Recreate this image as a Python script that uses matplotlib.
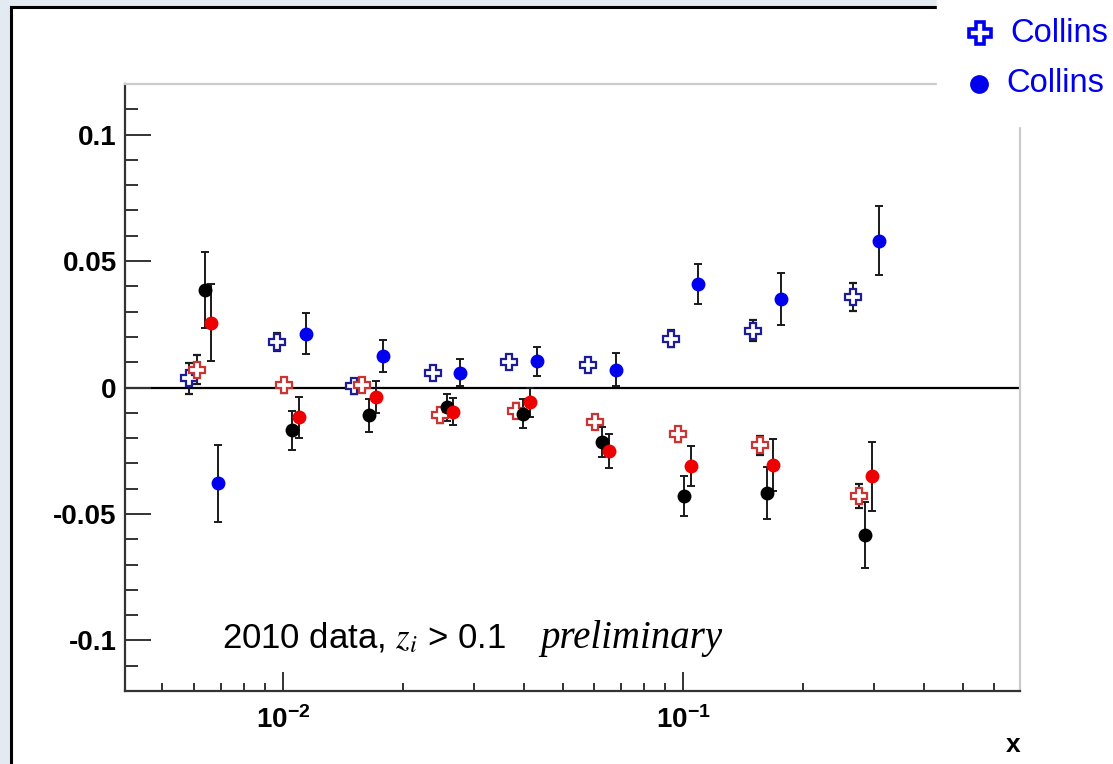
import matplotlib
matplotlib.use("Agg")
import matplotlib.pyplot as plt
from matplotlib.lines import Line2D
from matplotlib.patches import Rectangle
from matplotlib.ticker import FixedLocator, FixedFormatter, MultipleLocator, NullFormatter

plt.rcParams['font.family'] = ['Liberation Sans', 'DejaVu Sans']
plt.rcParams['mathtext.fontset'] = 'stix'

# open blue crosses
x_bc = [0.00582, 0.00966, 0.0151, 0.0237, 0.0367, 0.0579, 0.0933, 0.1496, 0.266]
y_bc = [0.0036, 0.0180, 0.0004, 0.0059, 0.0099, 0.0087, 0.0193, 0.0225, 0.0359]
e_bc = [0.0060, 0.0034, 0.0030, 0.0020, 0.0016, 0.0025, 0.0034, 0.0043, 0.0055]

# filled blue circles
x_bf = [0.00688, 0.01141, 0.01778, 0.0277, 0.0432, 0.068, 0.109, 0.1758, 0.309]
y_bf = [-0.0379, 0.0213, 0.0126, 0.0059, 0.0103, 0.0071, 0.0410, 0.0351, 0.0580]
e_bf = [0.0152, 0.0081, 0.0063, 0.0055, 0.0057, 0.0067, 0.0079, 0.0103, 0.0136]

# open red crosses
x_rc = [0.0061, 0.01006, 0.01576, 0.0247, 0.0382, 0.0603, 0.0972, 0.1557, 0.275]
y_rc = [0.0071, 0.0008, 0.0008, -0.0110, -0.0091, -0.0138, -0.0185, -0.0229, -0.0430]
e_rc = [0.0059, 0.0030, 0.0020, 0.0030, 0.0030, 0.0020, 0.0030, 0.0037, 0.0047]

# filled black circles
x_k = [0.00638, 0.01053, 0.0164, 0.0257, 0.0398, 0.0627, 0.1006, 0.1622, 0.285]
y_k = [0.0387, -0.0170, -0.0110, -0.0079, -0.0103, -0.0217, -0.0430, -0.0418, -0.0584]
e_k = [0.0150, 0.0079, 0.0065, 0.0055, 0.0057, 0.0059, 0.0079, 0.0103, 0.0130]

# filled red circles
x_rf = [0.0066, 0.01096, 0.01708, 0.0266, 0.0414, 0.0653, 0.1047, 0.1679, 0.297]
y_rf = [0.0256, -0.0118, -0.0036, -0.0095, -0.0059, -0.0252, -0.0312, -0.0308, -0.0351]
e_rf = [0.0152, 0.0081, 0.0063, 0.0053, 0.0057, 0.0067, 0.0079, 0.0103, 0.0136]

y_ticks = [-0.1, -0.05, 0, 0.05, 0.1]
y_tick_labels = ["-0.1", "-0.05", "0", "0.05", "0.1"]
x_ticks = [0.01, 0.1]
x_tick_labels = [r"$\mathregular{10^{-2}}$", r"$\mathregular{10^{-1}}$"]
legend_labels = ["Collins", "Collins"]

W, H = 1113, 764
fig = plt.figure(figsize=(W / 100, H / 100), dpi=100)
fig.patch.set_facecolor("white")

# slide background and frame
bg = "#e4eaf1"
fig.add_artist(Rectangle((0, 0), 10 / W, 1, transform=fig.transFigure, color=bg, zorder=0))
fig.add_artist(Rectangle((0, 1 - 5 / H), 937 / W, 5 / H, transform=fig.transFigure, color=bg, zorder=0))
fig.add_artist(Line2D([11 / W, 11 / W], [0, 1 - 6.5 / H], transform=fig.transFigure, color="black", lw=2.2))
fig.add_artist(Line2D([11 / W, 937 / W], [1 - 6.5 / H, 1 - 6.5 / H], transform=fig.transFigure, color="black", lw=2.2))

ax = fig.add_axes([125 / W, (H - 691) / H, 895 / W, 607 / H])
ax.set_xscale("log")
ax.set_xlim(0.00403, 0.696)
ax.set_ylim(-0.12, 0.12)

ax.axhline(0, color="black", lw=1.6, zorder=1)

ekw = dict(ls="none", ecolor="#1a1a1a", elinewidth=1.4, capsize=3, capthick=1.4, zorder=3)
ax.errorbar(x_bc, y_bc, yerr=e_bc, marker="P", ms=11, mfc="white", mec="#1c1c9a", mew=1.6, **ekw)
ax.errorbar(x_rc, y_rc, yerr=e_rc, marker="P", ms=11, mfc="white", mec="#cc3333", mew=1.6, **ekw)
ax.errorbar(x_bf, y_bf, yerr=e_bf, marker="o", ms=9, mfc="#0000ee", mec="#0000ee", **ekw)
ax.errorbar(x_k, y_k, yerr=e_k, marker="o", ms=9, mfc="black", mec="black", **ekw)
ax.errorbar(x_rf, y_rf, yerr=e_rf, marker="o", ms=9, mfc="#ee0000", mec="#ee0000", **ekw)

for s in ["left", "bottom"]:
    ax.spines[s].set_color("#333333")
    ax.spines[s].set_linewidth(1.6)
for s in ["top", "right"]:
    ax.spines[s].set_color("#cccccc")
    ax.spines[s].set_linewidth(1.6)

ax.yaxis.set_major_locator(FixedLocator(y_ticks))
ax.yaxis.set_major_formatter(FixedFormatter(y_tick_labels))
ax.yaxis.set_minor_locator(MultipleLocator(0.01))
ax.xaxis.set_major_locator(FixedLocator(x_ticks))
ax.xaxis.set_major_formatter(FixedFormatter(x_tick_labels))
minor_x = [m * d for d in (0.001, 0.01, 0.1) for m in range(2, 10)]
ax.xaxis.set_minor_locator(FixedLocator(minor_x))
ax.xaxis.set_minor_formatter(NullFormatter())

ax.tick_params(axis="y", which="major", direction="in", length=19, width=1.4, color="#333333",
               pad=6, labelsize=20)
ax.tick_params(axis="y", which="minor", direction="in", length=9, width=1.4, color="#333333")
ax.tick_params(axis="x", which="major", direction="in", length=14, width=1.4, color="#333333",
               pad=11, labelsize=20)
ax.tick_params(axis="x", which="minor", direction="in", length=6, width=1.4, color="#333333")
for lab in ax.get_xticklabels() + ax.get_yticklabels():
    lab.set_fontweight("bold")

ax.text((222 - 125) / 895, (691 - 648) / 607, r"2010 data, $z_i$ > 0.1", fontsize=25,
        transform=ax.transAxes, ha="left", va="baseline")
ax.text((540 - 125) / 895, (691 - 648) / 607, "preliminary", fontsize=28, style="italic",
        family="Liberation Serif", transform=ax.transAxes, ha="left", va="baseline")

fig.text(1013 / W, 1 - 745 / H, "x", fontsize=19, fontweight="bold", ha="center", va="center")

# legend area (covers the top right corner)
fig.add_artist(Rectangle((937 / W, 1 - 126 / H), 176 / W, 126 / H, transform=fig.transFigure,
                         color="white", zorder=5))
fig.add_artist(Line2D([980 / W], [1 - 33 / H], transform=fig.transFigure, marker="P", ms=16,
                      mfc="white", mec="#0000ee", mew=2.6, ls="none", zorder=6))
fig.add_artist(Line2D([979 / W], [1 - 84 / H], transform=fig.transFigure, marker="o", ms=12.5,
                      mfc="#0000ee", mec="#0000ee", ls="none", zorder=6))
fig.text(1010 / W, 1 - 33 / H, legend_labels[0], fontsize=23.5, color="#0000ee", ha="left",
         va="center", zorder=6)
fig.text(1006 / W, 1 - 84 / H, legend_labels[1], fontsize=23.5, color="#0000ee", ha="left",
         va="center", zorder=6)

fig.savefig("out.png", dpi=100)
